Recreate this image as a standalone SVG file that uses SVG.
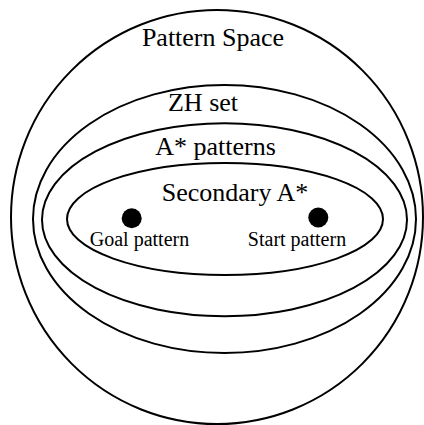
<svg xmlns="http://www.w3.org/2000/svg" width="424" height="425" viewBox="0 0 424 425">
<style>
.set{fill:none;stroke:#000;stroke-width:2}
.big{font-family:"Liberation Serif","Times New Roman",serif;font-size:26px;fill:#000;text-anchor:middle}
.small{font-family:"Liberation Serif","Times New Roman",serif;font-size:20px;fill:#000;text-anchor:middle}
.dot{fill:#000}
</style>
<rect width="424" height="425" fill="#fff"/>
<g id="pattern-space">
<ellipse class="set" cx="217" cy="217" rx="206" ry="207"/>
<text class="big" x="213" y="46">Pattern Space</text>
</g>
<g id="zh-set">
<ellipse class="set" cx="224.5" cy="219" rx="191.5" ry="134"/>
<text class="big" x="203" y="111">ZH set</text>
</g>
<g id="astar-patterns">
<ellipse class="set" cx="224.5" cy="219.7" rx="182.5" ry="96.5"/>
<text class="big" x="215.5" y="154.5">A* patterns</text>
</g>
<g id="secondary-astar">
<ellipse class="set" cx="225" cy="219" rx="158" ry="56"/>
<text class="big" x="235" y="201">Secondary A*</text>
</g>
<g id="goal-pattern">
<circle class="dot" cx="131.7" cy="218.3" r="10"/>
<text class="small" x="139.5" y="246">Goal pattern</text>
</g>
<g id="start-pattern">
<circle class="dot" cx="318.3" cy="217.5" r="10"/>
<text class="small" x="297" y="246">Start pattern</text>
</g>
<g id="connectors"/>
</svg>
